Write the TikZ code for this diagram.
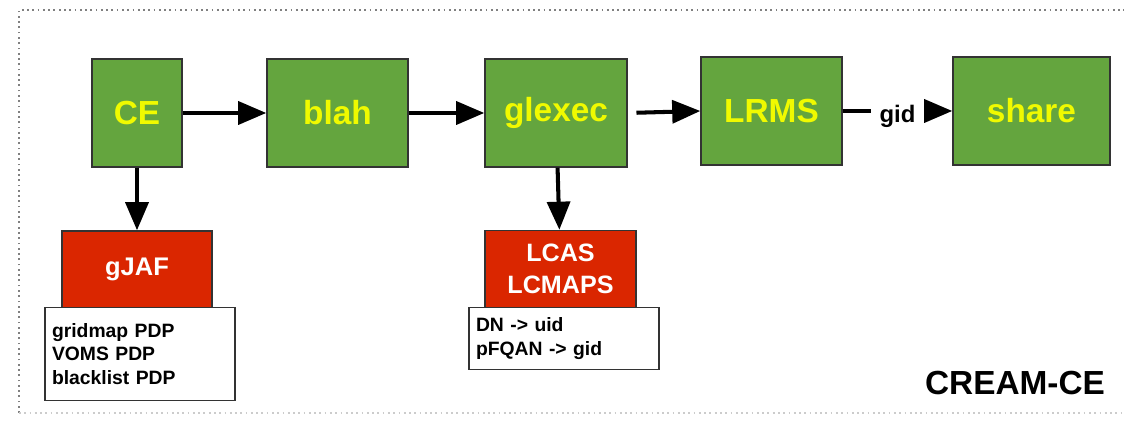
\documentclass[tikz,border=0pt]{standalone}
\usepackage{fontspec}
\setmainfont{Liberation Sans}
\usetikzlibrary{arrows.meta}
\definecolor{boxgreen}{RGB}{100,165,62}
\definecolor{boxred}{RGB}{218,38,0}
\definecolor{textyellow}{RGB}{240,250,0}
\tikzset{>={Triangle[length=16pt,width=13pt]}}
\tikzset{
  stage/.style={draw=black!80,line width=0.8pt,fill=boxgreen,text=textyellow,
    minimum height=2.16cm,font=\fontsize{19}{22}\selectfont\bfseries},
  authz/.style={draw=black!80,line width=0.8pt,fill=boxred,text=white,
    minimum width=3.02cm,minimum height=1.54cm,align=center},
  pdpbox/.style={draw=black!80,line width=0.8pt,fill=white,align=left,
    minimum width=3.8cm,text width=3.52cm,inner xsep=0.14cm,
    font=\fontsize{11}{13.5}\selectfont\bfseries},
  flow/.style={line width=2.3pt,black,->}
}

\begin{document}
\begin{tikzpicture}[x=0.02cm,y=-0.02cm]
        \useasboundingbox (0,0) rectangle (1124,421);

        % Frame
        \draw[gray,dotted,line width=1pt] (19,413) -- (19,10) -- (1124,10);
        \draw[gray!40,dotted,line width=1pt] (19,413) -- (1124,413);

        % Chain
        \node[stage,minimum width=1.8cm]  at (137,113)    (ce)     {CE};
        \node[stage,minimum width=2.82cm] at (337.5,113)  (blah)   {blah};
        \node[stage,minimum width=2.84cm] at (556,113)    (glexec) {glexec};
        \node[stage,minimum width=2.82cm] at (771.5,111)  (lrms)   {LRMS};
        \node[stage,minimum width=3.14cm] at (1031.5,111) (share)  {share};

        % Authorization
        \node[authz,minimum width=3cm,font=\fontsize{14.5}{18}\selectfont\bfseries]
          at (137,269.5) (gjaf) {gJAF};
        \node[pdpbox,minimum height=1.86cm] at (140,354) (gjafpdp)
          {gridmap PDP\\VOMS PDP\\blacklist PDP};
        \node[authz,font=\fontsize{14.3}{18}\selectfont\bfseries]
          at (560.5,269) (lcas) {LCAS\\LCMAPS};
        \node[pdpbox,minimum height=1.24cm] at (564,338.5) (lcaspdp)
          {DN -> uid\\pFQAN -> gid};

        % Arrows
        \draw[flow] (ce) -- (blah);
        \draw[flow] (blah) -- (glexec);
        \draw[flow,shorten <=5pt] (glexec.east) -- (lrms.west);
        \draw[flow] (lrms.east) -- node[fill=white,inner xsep=5pt,inner ysep=1pt,yshift=-3pt,
          font=\fontsize{13.6}{16}\selectfont\bfseries] (gid) {gid} (share.west);
        \draw[flow] (ce) -- (gjaf);
        \draw[flow] (glexec) -- (lcas);

        \node[font=\fontsize{19}{22}\selectfont\bfseries] at (1015,383) (cream) {CREAM-CE};

\end{tikzpicture}
\end{document}
